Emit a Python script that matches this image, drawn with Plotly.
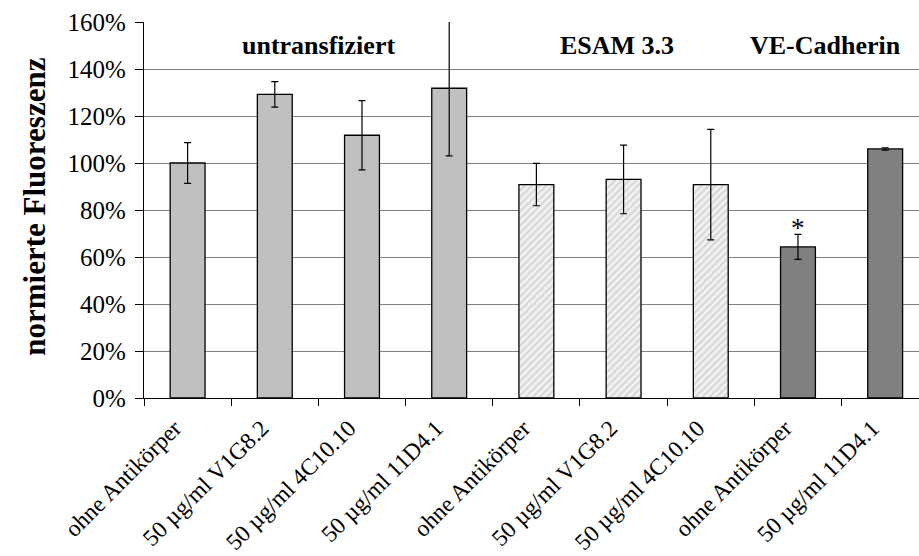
import plotly.graph_objects as go

# Sample labels (x axis), in plotting order
labels = [
    "ohne Antikörper", "50 µg/ml V1G8.2", "50 µg/ml 4C10.10", "50 µg/ml 11D4.1",
    "ohne Antikörper", "50 µg/ml V1G8.2", "50 µg/ml 4C10.10",
    "ohne Antikörper", "50 µg/ml 11D4.1",
]

# Normalised fluorescence (%) and error bars per group
untransfiziert_x = [0, 1, 2, 3]
untransfiziert_val = [100.0, 129.2, 111.8, 131.8]
untransfiziert_err = [8.7, 5.4, 14.7, 28.8]

esam_x = [4, 5, 6]
esam_val = [90.8, 93.0, 90.8]
esam_err = [9.0, 14.6, 23.5]

vecad_x = [7, 8]
vecad_val = [64.3, 106.0]
vecad_err = [5.3, 0.5]

group_names = ["untransfiziert", "ESAM 3.3", "VE-Cadherin"]
group_label_x = [1.5, 4.92, 7.31]

significant_x = [7]
significant_y = [72.5]

y_ticks = [0, 20, 40, 60, 80, 100, 120, 140, 160]

SERIF = "Liberation Serif, Times New Roman, serif"
BAR_W = 0.40


def err(vals):
    return dict(type="data", array=vals, visible=True, color="black",
                thickness=1.2, width=3.5)


fig = go.Figure()

fig.add_trace(go.Bar(
    x=untransfiziert_x, y=untransfiziert_val, width=BAR_W,
    marker=dict(color="#c0c0c0", line=dict(color="black", width=1.3)),
    error_y=err(untransfiziert_err), showlegend=False,
))

fig.add_trace(go.Bar(
    x=esam_x, y=esam_val, width=BAR_W,
    marker=dict(color="#f2f2f2", line=dict(color="black", width=1.3),
                pattern=dict(shape="/", fgcolor="#bdbdbd", bgcolor="#f2f2f2",
                             size=5, solidity=0.45)),
    error_y=err(esam_err), showlegend=False,
))

fig.add_trace(go.Bar(
    x=vecad_x, y=vecad_val, width=BAR_W,
    marker=dict(color="#808080", line=dict(color="black", width=1.3)),
    error_y=err(vecad_err), showlegend=False,
))

annotations = []
for name, gx in zip(group_names, group_label_x):
    annotations.append(dict(
        x=gx, y=150, xref="x", yref="y", text="<b>%s</b>" % name,
        showarrow=False, xanchor="center", yanchor="middle",
        font=dict(family=SERIF, size=26, color="black"),
    ))

for sx, sy in zip(significant_x, significant_y):
    annotations.append(dict(
        x=sx, y=sy, xref="x", yref="y", text="*", showarrow=False,
        xanchor="center", yanchor="middle",
        font=dict(family=SERIF, size=27, color="black"),
    ))

annotations.append(dict(
    x=-0.141, y=0.508, xref="paper", yref="paper",
    text="<b>normierte Fluoreszenz</b>", textangle=-90, showarrow=False,
    xanchor="center", yanchor="middle",
    font=dict(family=SERIF, size=31, color="black"),
))

fig.update_layout(
    width=919, height=556,
    margin=dict(l=144, r=0, t=22, b=158, pad=0),
    paper_bgcolor="white", plot_bgcolor="white",
    bargap=0.6,
    annotations=annotations,
    font=dict(family=SERIF, size=25, color="black"),
)

fig.update_xaxes(
    range=[-0.5, 8.388], automargin=False,
    tickmode="array", tickvals=list(range(len(labels))), ticktext=labels,
    tickangle=-45, ticks="", ticklabelstandoff=6, ticklabelshift=-13,
    showline=True, linecolor="black", linewidth=1.2,
    showgrid=False, zeroline=False,
    tickfont=dict(family=SERIF, size=23.5, color="black"),
    minor=dict(tick0=0.5, dtick=1, ticks="outside", ticklen=7,
               tickwidth=1, tickcolor="black", showgrid=False),
)

fig.update_yaxes(
    range=[0, 160], automargin=False, tickmode="array", tickvals=y_ticks,
    ticktext=["%d%%" % v for v in y_ticks],
    ticks="outside", ticklen=8, tickwidth=1, tickcolor="black",
    ticklabelstandoff=4,
    showline=True, linecolor="black", linewidth=1.2,
    showgrid=True, gridcolor="#808080", gridwidth=1,
    zeroline=False,
    tickfont=dict(family=SERIF, size=25, color="black"),
)

fig.write_html("out.html")
